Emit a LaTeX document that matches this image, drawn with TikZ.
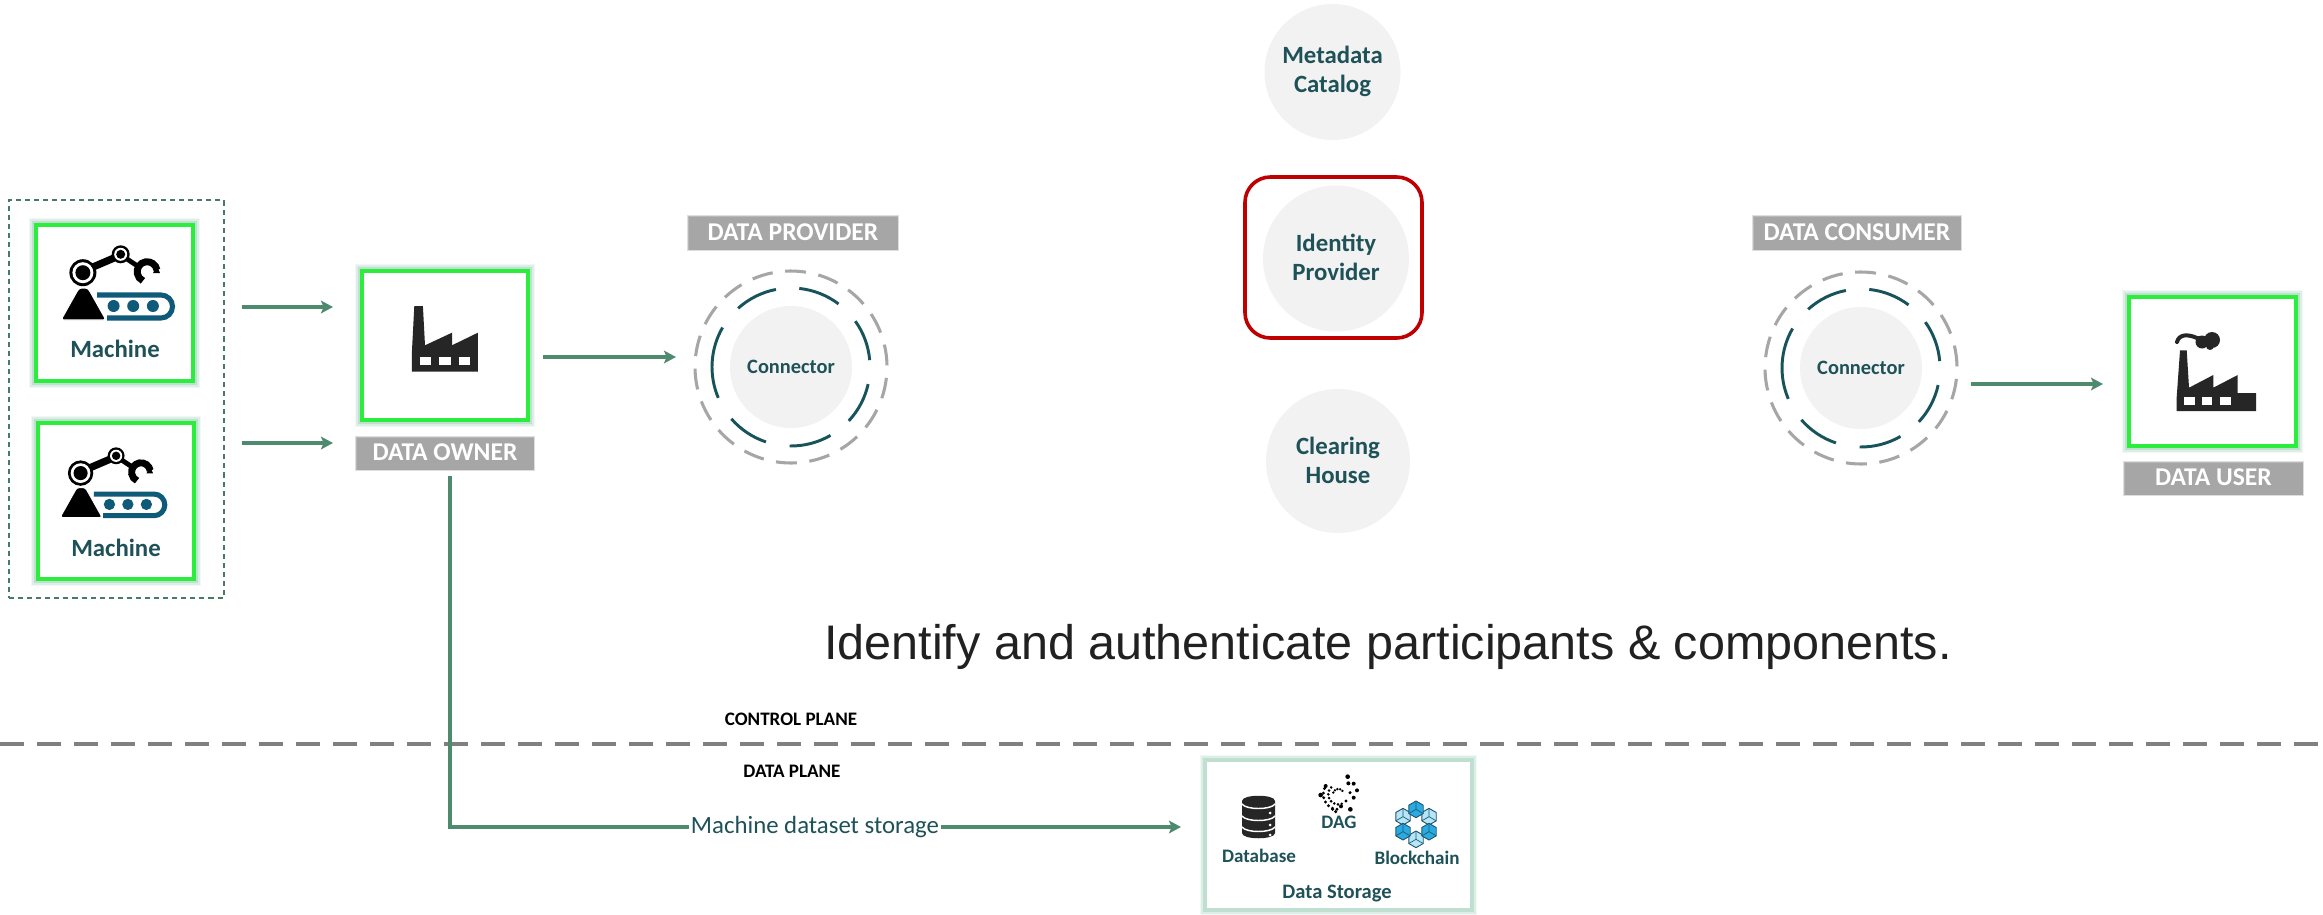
\documentclass[tikz,border=0pt]{standalone}
\usepackage{fontspec}
\setmainfont{Carlito}
\newfontfamily\bigfont{Liberation Sans}
\usetikzlibrary{arrows.meta,fit,calc}
\definecolor{txt}{HTML}{1E5258}
\definecolor{flowc}{HTML}{4E8A6E}
\definecolor{grn}{HTML}{2BEE3C}
\definecolor{glowz}{HTML}{F1F8F5}
\definecolor{glowa}{HTML}{DDEEE6}
\definecolor{glowb}{HTML}{BFE0D0}
\definecolor{lab}{HTML}{A6A6A6}
\definecolor{labedge}{HTML}{B8B8B8}
\definecolor{labedgeb}{HTML}{DEDEDE}
\definecolor{discc}{HTML}{F2F2F2}
\definecolor{ringd}{HTML}{17535A}
\definecolor{ico}{HTML}{262626}
\definecolor{belt}{HTML}{0F5A78}
\definecolor{bluea}{HTML}{29ABE2}
\definecolor{blueb}{HTML}{B5E6F7}
\definecolor{hexline}{HTML}{22556E}
\newcommand\hexcube[3]{%
  \filldraw[fill=#3,draw=hexline,line width=.7pt,line join=round]
    ([shift={(30:25)}]#1,#2) -- ([shift={(90:25)}]#1,#2) -- ([shift={(150:25)}]#1,#2)
    -- ([shift={(210:25)}]#1,#2) -- ([shift={(270:25)}]#1,#2) -- ([shift={(330:25)}]#1,#2) -- cycle;
  \draw[draw=hexline,line width=.5pt] (#1,#2) -- ([shift={(30:25)}]#1,#2)
    (#1,#2) -- ([shift={(150:25)}]#1,#2) (#1,#2) -- ([shift={(270:25)}]#1,#2);}
\tikzset{
  glowbox/.style={rectangle,inner sep=0pt,fill=white,draw=grn,line width=2.6pt,
    preaction={draw=glowz,line width=11pt},preaction={draw=glowa,line width=8.5pt},preaction={draw=glowb,line width=5.5pt}},
  softbox/.style={rectangle,inner sep=0pt,fill=white,draw=glowb,line width=3pt,
    preaction={draw=glowz,line width=8pt},preaction={draw=glowa,line width=5.5pt}},
  tagbox/.style={rectangle,inner sep=0pt,fill=lab,draw=lab,line width=.5pt,
    preaction={draw=labedgeb,line width=3.5pt},preaction={draw=labedge,line width=1.8pt}},
  tagtxt/.style={text=white,inner sep=0pt,font=\fontsize{19.2}{22}\selectfont\bfseries},
  nametxt/.style={text=txt,align=center,inner sep=0pt,font=\fontsize{18.6}{21.75}\selectfont\bfseries},
  conntxt/.style={text=txt,inner sep=0pt,font=\fontsize{15.3}{18}\selectfont\bfseries},
  smalltxt/.style={text=txt,inner sep=0pt,font=\fontsize{14.3}{16}\selectfont\bfseries},
  planetxt/.style={text=black,inner sep=0pt,font=\fontsize{14.3}{16}\selectfont\bfseries},
  discn/.style={circle,fill=discc,inner sep=0pt},
  flow/.style={draw=flowc,line width=2.4pt,-{Stealth[length=9pt,width=9.5pt,inset=2pt]}},
  flowp/.style={draw=flowc,line width=2.4pt},
  connring/.pic={
    \begin{scope}[yscale=-1]
      \foreach \a in {0,...,17}
        \draw[lab,line width=2.3pt] ({81+20*\a}:96) arc ({81+20*\a}:{93.5+20*\a}:96);
      \foreach \s/\e in {101/132,53/84,5/35.5,-43/-12.5,-91/-60,-139/-108.5,150/203}
        \draw[ringd,line width=2.2pt] (\s:79) arc (\s:\e:79);
    \end{scope}
  },
  machinepic/.pic={
    \draw[belt,line width=3.8pt] (36,49) -- (100,49) arc (-90:90:11.5) -- (46,72);
    \foreach \x in {52.6,72.2,91.9} \fill[belt] (\x,60) circle (6);
    \filldraw[black,draw=white,line width=.8pt,rounded corners=2pt] (0,74) -- (18,42) -- (27,42) -- (45,74) -- cycle;
    \draw[black,line width=5.5pt] (32,21) -- (53,12);
    \draw[black,line width=3.6pt] (66,13) -- (76.5,20);
    \draw[black,line width=5.2pt] (96,24) arc (-10:-245:10);
    \fill[black] (96,20) -- (99,27) -- (92,27) -- cycle;
    \fill[black] (21.9,26.7) circle (13.5);
    \fill[white] (21.9,26.7) circle (10.5);
    \fill[black] (21.9,26.7) circle (7.5);
    \fill[black] (59.7,8.3) circle (9);
    \fill[white] (59.7,8.3) circle (6.5);
    \fill[black] (59.7,8.3) circle (4.5);
  }
}
\begin{document}
\begin{tikzpicture}[x=0.75pt,y=-0.75pt]
\useasboundingbox[fill=white] (0,-1) rectangle (2323,913);

% control/data plane divider
\coordinate (divl) at (0,743);
\coordinate (divr) at (2323,743);
\draw[draw=black!50,line width=3pt,dash pattern=on 18pt off 9.75pt] (divl) -- (divr);
\node[planetxt] (cp) at (791,718) {CONTROL PLANE};
\node[planetxt] (dp) at (792,770) {DATA PLANE};

% machines
\node[fit={(9,199)(224,597)},inner sep=0pt,draw=flowc!90!black,line width=2.2pt,dash pattern=on 3.8pt off 3pt] (grp) {};
\node[glowbox,fit={(36,224)(193,380)}] (m1) {};
\pic at (61,245) {machinepic};
\node[nametxt] (m1t) at (115,348) {Machine};
\node[glowbox,fit={(38,422)(194,578)}] (m2) {};
\pic[scale=.94] at (60,447) {machinepic};
\node[nametxt] (m2t) at (116,547) {Machine};

% data owner
\node[glowbox,fit={(362,270)(528,419)}] (owner) {};
\fill[ico] (411.8,370.7) -- (477.9,370.7) -- (477.9,331.7) -- (452,344.3) -- (452,331.7) -- (425,344.3) -- (422.9,305) -- (414.3,305) -- (411.8,353) -- cycle;
\foreach \x in {419.6,439,458.6} \fill[white] (\x,355.7) rectangle ++(11.6,8.3);
\node[tagbox,fit={(357,437)(533,468)}] (ownert) {};
\node[tagtxt] (ownerl) at ([yshift=.7pt]ownert.center) {DATA OWNER};

% connectors left
\coordinate (a1s) at (242,306); \coordinate (a1e) at (333,306);
\coordinate (a2s) at (242,442); \coordinate (a2e) at (333,442);
\draw[flow] (a1s) -- (a1e);
\draw[flow] (a2s) -- (a2e);

% provider
\node[tagbox,fit={(689,216)(897,248)}] (provt) {};
\node[tagtxt] (provl) at ([yshift=.7pt]provt.center) {DATA PROVIDER};
\node[discn,minimum size=91.5pt] (prov) at (791,366) {};
\node[conntxt] (provc) at (prov) {Connector};
\pic at (prov) {connring};
\coordinate (a3s) at (543,356); \coordinate (a3e) at (676,356);
\draw[flow] (a3s) -- (a3e);

% central services
\node[discn,minimum size=102pt] (meta) at (1332.5,71) {};
\node[nametxt] (metal) at ([yshift=.6pt]meta.center) {Metadata\\Catalog};
\node[rectangle,fit={(1245,176)(1422,337)},inner sep=0pt,draw=red!75!black,line width=2.7pt,rounded corners=19pt] (idbox) {};
\node[discn,minimum size=109.5pt] (idp) at (1336,257.5) {};
\node[nametxt] (idpl) at ([yshift=1pt]idp.center) {Identity\\Provider};
\node[discn,minimum size=108pt] (clear) at (1338,460) {};
\node[nametxt] (clearl) at ([yshift=.6pt]clear.center) {Clearing\\House};

% consumer
\node[tagbox,fit={(1754,216)(1960,248)}] (const) {};
\node[tagtxt] (consl) at ([yshift=.7pt]const.center) {DATA CONSUMER};
\node[discn,minimum size=91.5pt] (cons) at (1861,367) {};
\node[conntxt] (consc) at (cons) {Connector};
\pic at (cons) {connring};
\coordinate (a4s) at (1971,383); \coordinate (a4e) at (2103,383);
\draw[flow] (a4s) -- (a4e);

% data user
\node[glowbox,fit={(2129,296)(2296,445)}] (user) {};
\fill[ico] (2176.7,410) -- (2256,410) -- (2256,392) -- (2237.7,392) -- (2237.7,374) -- (2213.3,386.7) -- (2213.3,374) -- (2189,386.7) -- (2186.7,349.3) -- (2180,349.3) -- (2176.7,396) -- cycle;
\foreach \x in {2184,2201.7,2220} \fill[white] (\x,395.7) rectangle ++(10.5,8.3);
\draw[ico,line width=3pt,line cap=round] (2177,341) .. controls (2179,333) and (2188,333) .. (2197,337) -- (2208,339);
\fill[ico] (2202,341) circle (6.5) (2210,345) circle (4) (2212,339) circle (8);
\node[tagbox,fit={(2125,462)(2302,493)}] (usert) {};
\node[tagtxt] (userl) at ([yshift=.7pt]usert.center) {DATA USER};

% big caption
\node[inner sep=0pt,text=black!87,font=\bigfont\fontsize{36.4}{42}\selectfont] (cap) at (1388,646) {Identify and authenticate participants \& components.};

% data storage
\node[softbox,fit={(1205,759)(1472,909)}] (store) {};
\fill[ico] (1242,800) -- (1242,832) .. controls (1242,839) and (1275,839) .. (1275,832) -- (1275,800) .. controls (1275,793) and (1242,793) .. (1242,800) -- cycle;
\draw[white,line width=1.1pt] (1242,803) .. controls (1246,809) and (1271,809) .. (1275,803);
\draw[white,line width=1.1pt] (1242,815) .. controls (1246,821) and (1271,821) .. (1275,815);
\draw[white,line width=1.1pt] (1242,826) .. controls (1246,832) and (1271,832) .. (1275,826);
\foreach \y in {812,824,834} \fill[white] (1270,\y) circle (1.5);
\begin{scope}[shift={(1180,740)},scale=1/3]
  % DAG tangle
  \foreach \a in {95,113,...,210} \fill[black] ([shift={(\a:45)}]475,160) circle (4.8);
  \foreach \a in {70,92,...,235} \fill[black] ([shift={(\a:30)}]475,160) circle (4.4);
  \foreach \a in {200,230,...,345} \fill[black] ([shift={(\a:16)}]475,160) circle (4);
  \foreach \x/\y/\r in {503/107/7,505/127/6,521/128/6,422/162/7,531/148/6,521/170/6,511/205/7,483/196/6,458/205/5,467/212/5,437/135/6,498/180/5,510/155/5}
    \fill[black] (\x,\y) circle (\r);
  % blockchain
  \hexcube{669}{227}{blueb}
  \hexcube{747}{227}{blueb}
  \hexcube{708}{295}{blueb}
  \hexcube{708}{205}{bluea}
  \hexcube{669}{272}{bluea}
  \hexcube{747}{272}{bluea}
  \fill[white] (708,250) circle (14);
\end{scope}
\node[smalltxt] (db) at (1259,855) {Database};
\node[smalltxt] (dag) at (1339,821) {DAG};
\node[smalltxt] (bc) at (1417,857) {Blockchain};
\node[smalltxt,font=\fontsize{15.4}{18}\selectfont\bfseries] (ds) at (1337,892) {Data Storage};

% storage flow
\coordinate (vs) at (450,475);
\coordinate (ae) at (1181,826);
\node[inner sep=1pt,fill=white,text=txt,font=\fontsize{18.6}{20}\selectfont] (msd) at (815,826) {Machine dataset storage};
\draw[flowp] (vs) |- (msd.west);
\draw[flow] (msd.east) -- (ae);
\end{tikzpicture}
\end{document}
